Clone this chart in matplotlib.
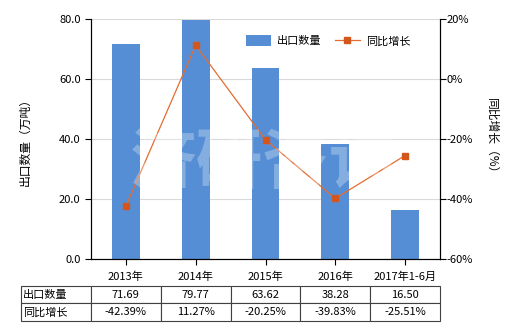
import matplotlib
matplotlib.use("Agg")
import matplotlib.pyplot as plt
from matplotlib.ticker import FuncFormatter

plt.rcParams['font.family'] = ['Noto Sans CJK SC', 'DejaVu Sans']

categories = ["2013年", "2014年", "2015年", "2016年", "2017年1-6月"]
export_qty = [71.69, 79.77, 63.62, 38.28, 16.50]
yoy_growth = [-42.39, 11.27, -20.25, -39.83, -25.51]
qty_labels = ["71.69", "79.77", "63.62", "38.28", "16.50"]
yoy_labels = ["-42.39%", "11.27%", "-20.25%", "-39.83%", "-25.51%"]

bar_color = "#558ED5"
line_color = "#E46C32"
marker_color = "#D4561C"
fs = 8

fig = plt.figure(figsize=(5.2, 3.3), dpi=100)
ax = fig.add_axes([91/520, 1-259/330, 349/520, 240/330])
ax2 = ax.twinx()

x = list(range(len(categories)))
ax.bar(x, export_qty, width=0.4, color=bar_color, zorder=2, label="出口数量")
ax.set_xlim(-0.5, 4.5)
ax.set_ylim(0, 80)
ax.set_yticks([0, 20, 40, 60, 80])
ax.yaxis.set_major_formatter(FuncFormatter(lambda v, p: f"{v:.1f}"))
ax.grid(axis='y', color='#D9D9D9', linewidth=0.8, zorder=0)
ax.set_axisbelow(True)
ax.set_xticks(x)
ax.set_xticklabels(categories)
ax.tick_params(axis='both', labelsize=fs, length=4, width=0.8)
ax.tick_params(axis='x', pad=5)
for s in ['top']:
    ax.spines[s].set_visible(False)
    ax2.spines[s].set_visible(False)
ax.set_ylabel("出口数量（万吨）", fontsize=fs+0.5, labelpad=20)

ax2.plot(x, yoy_growth, color=line_color, linewidth=0.9, marker='s', markersize=5,
         markerfacecolor=marker_color, markeredgecolor=marker_color, zorder=4, label="同比增长")
ax2.set_ylim(-60, 20)
ax2.set_yticks([-60, -40, -20, 0, 20])
ax2.yaxis.set_major_formatter(FuncFormatter(lambda v, p: f"{int(v)}%"))
ax2.tick_params(axis='y', labelsize=fs, length=4, width=0.8, pad=1)
ax2.set_ylabel("同比增长（%）", fontsize=fs+0.5, rotation=270, labelpad=18)

# watermark
fig.text(263/520, 1-163/330, "济研咨询", fontsize=48, fontweight='bold', color='white',
         alpha=0.28, ha='center', va='center', zorder=3)
ax2.set_zorder(ax.get_zorder()+1)
ax2.patch.set_visible(False)

h1, l1 = ax.get_legend_handles_labels()
h2, l2 = ax2.get_legend_handles_labels()
ax2.legend(h1 + h2, l1 + l2, loc='upper right', bbox_to_anchor=(0.945, 0.975), ncol=2,
           frameon=False, fontsize=fs, handlelength=2.2, handleheight=1.2,
           columnspacing=1.2, handletextpad=0.6)

# table
tbl = ax.table(cellText=[["出口数量"] + qty_labels, ["同比增长"] + yoy_labels],
               colWidths=[70/349] + [0.2]*5,
               bbox=[-70/349, -0.258, 70/349 + 1.0, 0.1455], cellLoc='center')
tbl.auto_set_font_size(False)
tbl.set_fontsize(fs)
for (r, c), cell in tbl.get_celld().items():
    cell.set_edgecolor('#404040')
    cell.set_linewidth(0.8)
    if c == 0:
        cell.set_text_props(ha='left')
        cell._loc = 'left'
        cell.PAD = 0.03

fig.savefig("out.png", dpi=100)
